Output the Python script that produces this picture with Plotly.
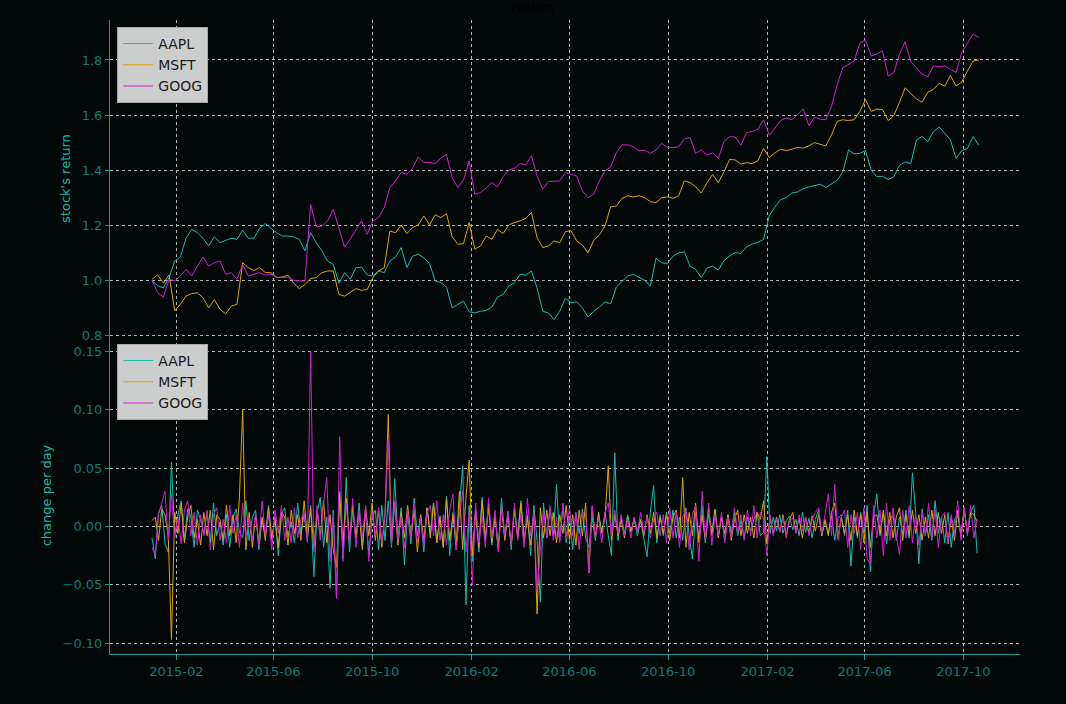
import numpy as np
import pandas as pd
import plotly.graph_objects as go
from plotly.subplots import make_subplots

# weekly samples of cumulative return
week_dates = pd.date_range("2015-01-02", periods=147, freq="7D")

aapl_ret = [1.000, 0.980, 0.973, 1.010, 1.070, 1.085, 1.153, 1.185, 1.173, 1.153,
            1.125, 1.158, 1.137, 1.145, 1.153, 1.149, 1.182, 1.153, 1.153, 1.189,
            1.206, 1.189, 1.173, 1.161, 1.161, 1.158, 1.149, 1.107, 1.173, 1.137,
            1.107, 1.070, 1.058, 0.990, 1.028, 1.004, 1.046, 1.048, 1.019, 1.016,
            1.034, 1.028, 1.070, 1.085, 1.119, 1.046, 1.088, 1.095, 1.082, 1.061,
            0.998, 0.992, 0.976, 0.900, 0.913, 0.925, 0.886, 0.882, 0.888, 0.891,
            0.903, 0.939, 0.949, 0.979, 0.992, 1.022, 1.019, 1.034, 0.973, 0.888,
            0.882, 0.858, 0.888, 0.935, 0.919, 0.922, 0.900, 0.867, 0.888, 0.903,
            0.922, 0.915, 0.976, 0.995, 1.016, 1.022, 1.012, 1.000, 0.979, 1.080,
            1.064, 1.061, 1.088, 1.100, 1.104, 1.052, 1.040, 1.010, 1.044, 1.052,
            1.037, 1.071, 1.089, 1.101, 1.098, 1.122, 1.132, 1.138, 1.149, 1.235,
            1.266, 1.293, 1.300, 1.317, 1.321, 1.333, 1.339, 1.345, 1.349, 1.337,
            1.349, 1.363, 1.394, 1.473, 1.459, 1.461, 1.471, 1.400, 1.376, 1.378,
            1.366, 1.376, 1.418, 1.430, 1.424, 1.510, 1.522, 1.504, 1.540, 1.556,
            1.534, 1.510, 1.443, 1.471, 1.479, 1.522, 1.491]

msft_ret = [1.004, 1.020, 0.990, 1.020, 0.890, 0.913, 0.943, 0.952, 0.955, 0.937,
            0.900, 0.930, 0.895, 0.879, 0.907, 0.913, 1.064, 1.046, 1.036, 1.046,
            1.028, 1.028, 1.010, 1.012, 1.019, 0.990, 0.970, 0.985, 1.007, 1.010,
            1.028, 1.034, 1.034, 0.949, 0.943, 0.955, 0.970, 0.964, 0.967, 1.010,
            1.034, 1.046, 1.179, 1.173, 1.201, 1.170, 1.192, 1.201, 1.234, 1.201,
            1.238, 1.228, 1.242, 1.158, 1.131, 1.133, 1.210, 1.113, 1.125, 1.161,
            1.149, 1.185, 1.170, 1.201, 1.210, 1.216, 1.225, 1.246, 1.155, 1.119,
            1.125, 1.143, 1.137, 1.177, 1.180, 1.143, 1.128, 1.100, 1.145, 1.165,
            1.198, 1.267, 1.270, 1.298, 1.307, 1.303, 1.307, 1.300, 1.286, 1.282,
            1.300, 1.303, 1.298, 1.307, 1.361, 1.355, 1.340, 1.317, 1.354, 1.385,
            1.354, 1.394, 1.439, 1.437, 1.422, 1.427, 1.424, 1.434, 1.479, 1.446,
            1.463, 1.476, 1.471, 1.476, 1.483, 1.480, 1.488, 1.500, 1.495, 1.488,
            1.528, 1.577, 1.583, 1.580, 1.583, 1.613, 1.656, 1.613, 1.622, 1.620,
            1.580, 1.598, 1.646, 1.699, 1.678, 1.659, 1.646, 1.683, 1.693, 1.715,
            1.705, 1.744, 1.705, 1.720, 1.760, 1.796, 1.800]

goog_ret = [1.000, 0.955, 0.940, 1.004, 0.998, 1.016, 1.040, 1.016, 1.052, 1.085,
            1.052, 1.064, 1.070, 1.022, 1.028, 1.004, 1.058, 1.016, 1.022, 1.028,
            1.019, 1.022, 1.012, 1.010, 1.012, 1.000, 0.998, 0.998, 1.276, 1.194,
            1.197, 1.216, 1.258, 1.190, 1.120, 1.150, 1.185, 1.216, 1.167, 1.216,
            1.228, 1.264, 1.337, 1.361, 1.392, 1.385, 1.407, 1.448, 1.428, 1.428,
            1.424, 1.444, 1.456, 1.373, 1.337, 1.364, 1.434, 1.313, 1.319, 1.335,
            1.355, 1.339, 1.376, 1.400, 1.407, 1.424, 1.419, 1.452, 1.379, 1.331,
            1.359, 1.359, 1.361, 1.391, 1.385, 1.379, 1.325, 1.300, 1.313, 1.361,
            1.398, 1.412, 1.464, 1.492, 1.492, 1.485, 1.470, 1.473, 1.461, 1.473,
            1.497, 1.482, 1.482, 1.485, 1.513, 1.519, 1.461, 1.473, 1.455, 1.463,
            1.443, 1.504, 1.522, 1.520, 1.491, 1.537, 1.540, 1.549, 1.583, 1.528,
            1.552, 1.580, 1.589, 1.583, 1.601, 1.622, 1.561, 1.593, 1.585, 1.583,
            1.632, 1.711, 1.772, 1.784, 1.796, 1.861, 1.873, 1.815, 1.821, 1.833,
            1.741, 1.754, 1.821, 1.866, 1.793, 1.772, 1.748, 1.739, 1.778, 1.776,
            1.778, 1.766, 1.754, 1.827, 1.863, 1.894, 1.882]

# change per day, sampled every 4 days, in thousandths
chg_dates = pd.date_range("2015-01-02", periods=256, freq="4D")

aapl_chg_pm = [-10, -28, 12, 18, -15, -22, 55, -8, 10, 22, -12, 15, 8, -18, 14, 6,
               -6, 12, -14, 20, -8, 4, -16, 10, -18, 7, 15, -5, -10, 22, -12, 8,
               14, -20, 6, -8, 18, -12, 9, -25, 11, 16, -9, 4, -14, 20, -6, 10,
               -12, 18, -43, 12, 25, -18, 8, -53, 14, -60, 30, -28, 42, -22, 15, -10,
               20, -16, 12, -24, 8, 14, -20, 18, -12, 22, -18, 41, -10, 16, -33, 12,
               -15, 24, -8, 10, -22, 16, -6, 20, -14, 9, -18, 26, -25, 12, -20, 15,
               52, -67, 18, -30, 14, -22, 25, -12, 20, -16, 10, -18, 24, -9, 13, -20,
               16, -8, 22, -14, 10, -25, 18, -12, -65, 20, -10, 15, -8, 36, -12, 18,
               -14, 9, -20, 12, -6, 15, -10, -18, 8, -12, 10, -5, 12, -8, -25, 63,
               -12, 8, -6, 10, -4, 6, -8, 5, -10, -26, 12, 35, -14, 10, -8, 12,
               -6, 14, -10, 8, -12, 16, -8, -28, 12, -10, 18, -14, 10, -6, 15, -9,
               8, -12, 10, -6, 12, -8, 5, -10, 8, -4, 6, 12, -8, -5, 60, -6,
               8, -4, 10, -6, 5, 9, -3, 6, -8, 12, -5, 7, -10, 6, 14, -8,
               5, -6, 9, -12, 7, 10, -8, 14, -34, 8, -10, 12, -6, 18, -39, 10,
               28, -8, 12, -15, 6, 10, -12, 8, -6, 14, -10, 46, 12, -32, 15, -8,
               10, -12, 22, -6, 8, -14, 12, -18, 6, 10, -8, 14, -6, 12, 18, -23]

msft_chg_pm = [5, 8, -12, 15, 10, -8, -97, 12, -6, 20, -14, 8, 18, -10, 6, -16,
               12, -8, 14, -20, 10, 6, -12, 18, -8, 10, -14, 25, 100, -20, 12, -18,
               10, -14, 8, -12, 16, -10, 6, -18, 12, 8, -16, 14, -6, 10, -12, 22,
               -10, 16, -18, 12, -8, 22, -14, 10, -20, -35, 28, -16, 24, -12, 18, -10,
               12, -20, 16, -8, 20, -12, 14, -18, 10, 96, -14, 20, -16, 12, -10, 18,
               -8, 14, -22, 10, -12, 16, -10, 20, -14, 8, -18, 24, -12, 10, -16, 30,
               -20, 24, 57, -25, 14, -18, 22, -10, 16, -14, 8, -20, 18, -12, 10, -16,
               14, -10, 20, -12, 8, -16, 12, -75, 16, -10, 14, -8, 12, -14, 10, -6,
               18, -12, 10, -16, 14, -8, 20, -40, 16, -10, 12, -6, 8, 52, -12, 10,
               -8, 6, -10, 8, -5, 7, -4, 6, -8, 10, -6, 12, -10, 8, -6, 10,
               -12, 8, 14, -10, 42, -18, 12, -8, 20, -14, 10, -12, 16, -8, 14, -10,
               8, -6, 10, -12, 6, 14, -8, 10, -6, 8, -10, 12, 6, 22, -15, 8,
               -6, 8, -4, 10, -8, 6, 12, -5, 7, -10, 8, -6, 9, -4, 10, -8,
               6, -8, 12, 20, -10, 8, -6, 10, -12, 14, -8, 10, -14, 12, -18, 8,
               10, -6, 14, -8, 12, -10, 8, 16, -12, 10, -8, 14, -6, 10, -12, 8,
               -10, 14, -8, 12, -6, 10, -15, 8, -12, 14, -8, 16, -6, 12, 10, 4]

goog_chg_pm = [-18, -25, 10, 20, 30, -12, 28, -10, 8, -15, 14, 22, -8, 12, -16, 10,
               -8, 14, -20, 10, 16, -12, 6, -14, 18, -6, 10, -18, 20, -10, 8, -12,
               12, -16, 22, -8, 10, -20, 14, -6, 18, -12, 8, -14, 16, -10, 6, 12,
               -14, 150, -22, 18, -12, 20, 42, -30, 10, -62, 77, -30, 20, -15, 24, -18,
               14, -10, 18, -30, 12, -8, 16, -14, 10, 75, -16, 22, -12, 8, -18, 14,
               -10, 20, -14, 8, -16, 12, 18, -8, 22, -12, 10, -16, 14, 28, -20, 10,
               30, -22, 12, -50, 20, -14, 10, -18, 24, -10, 14, -22, 18, -8, 12, -16,
               20, -12, 10, -18, 24, -8, 12, -55, -20, 14, -10, 18, -12, 8, -14, 20,
               -10, 16, -8, 12, -20, 10, 14, -40, 18, -10, 8, -14, 12, 20, -8, 14,
               -6, 10, -8, 6, -10, 8, -5, 12, -6, 8, -10, 6, 12, -8, 10, -14,
               16, -10, 12, -18, 8, 14, -20, 10, 18, -30, 30, -12, 20, -16, 10, -8,
               12, -14, 8, -10, 16, -6, 10, -12, 14, -8, 18, -10, 12, 6, -25, 10,
               -8, 6, -5, 8, -10, 5, 7, -6, 10, -4, 8, -8, 6, 12, 16, -6,
               10, 28, -8, 36, -12, 8, 14, -18, 10, -6, 12, -20, 16, -28, -32, 18,
               -10, 14, -25, 20, -12, 16, -8, -24, 14, -10, 18, -14, 10, -16, 12, -8,
               20, -10, 14, -18, 8, 12, -14, 10, -6, 22, -12, 16, -8, 18, -10, 6]

names = ["AAPL", "MSFT", "GOOG"]
colors = ["#14bdb4", "#e0a30a", "#d21ed2"]

x_ticks = ["2015-02-01", "2015-06-01", "2015-10-01", "2016-02-01", "2016-06-01",
           "2016-10-01", "2017-02-01", "2017-06-01", "2017-10-01"]
x_labels = ["2015-02", "2015-06", "2015-10", "2016-02", "2016-06",
            "2016-10", "2017-02", "2017-06", "2017-10"]
top_ticks = [0.8, 1.0, 1.2, 1.4, 1.6, 1.8]
bottom_ticks = [-0.10, -0.05, 0.0, 0.05, 0.10, 0.15]

BG = "#020708"
TEAL = "#119a96"
LABEL = "#0e7c7a"
GRID = "#b4b4b4"
FONT = "DejaVu Sans"

fig = make_subplots(rows=2, cols=1, shared_xaxes=True, vertical_spacing=0)

rets = [aapl_ret, msft_ret, goog_ret]
chgs = [aapl_chg_pm, msft_chg_pm, goog_chg_pm]
for name, col, r in zip(names, colors, rets):
    fig.add_trace(go.Scatter(x=week_dates, y=r, mode="lines", name=name,
                             line=dict(color=col, width=1), legend="legend"),
                  row=1, col=1)
for name, col, c in zip(names, colors, chgs):
    fig.add_trace(go.Scatter(x=chg_dates, y=np.array(c) / 1000.0, mode="lines", name=name,
                             line=dict(color=col, width=1), legend="legend2"),
                  row=2, col=1)

legend_style = dict(bgcolor="#cccecd", bordercolor="#a8a8a8", borderwidth=1,
                    font=dict(family=FONT, size=14, color="#1a1a1a"),
                    xanchor="left", yanchor="top", x=0.008, tracegroupgap=0)

fig.update_layout(
    width=1066, height=704,
    margin=dict(l=110, r=46, t=20, b=50),
    paper_bgcolor=BG, plot_bgcolor=BG,
    font=dict(family=FONT, size=13, color=LABEL),
    title=dict(text="return", x=0.5, xanchor="center", y=0.99, yanchor="middle",
               font=dict(family=FONT, size=14, color="#000000")),
    legend=dict(y=0.989, **legend_style),
    legend2=dict(y=0.489, **legend_style),
    showlegend=True,
)

xrange = ["2014-11-11", "2017-12-10"]
fig.update_xaxes(range=xrange, showgrid=True, gridcolor=GRID, griddash="dot", gridwidth=1,
                 zeroline=False, tickvals=x_ticks, ticktext=x_labels)
fig.update_xaxes(showticklabels=False, ticks="", showline=False, row=1, col=1)
fig.update_xaxes(ticks="outside", ticklen=5, tickcolor=TEAL, showline=True, linecolor=TEAL,
                 linewidth=1, tickfont=dict(color=LABEL, size=13), row=2, col=1)

fig.update_yaxes(showgrid=True, gridcolor=GRID, griddash="dot", gridwidth=1, zeroline=False,
                 ticks="outside", ticklen=4, tickcolor=TEAL, showline=True, linecolor=TEAL,
                 linewidth=1, tickfont=dict(color=LABEL, size=13))
fig.update_yaxes(domain=[0.5, 1.0], range=[0.7945, 1.945], tickvals=top_ticks, tickformat=".1f",
                 title=dict(text="stock's return", font=dict(color="#18b8b0", size=13), standoff=8),
                 row=1, col=1)
fig.update_yaxes(domain=[0.0, 0.5], range=[-0.1094, 0.1624], tickvals=bottom_ticks, tickformat=".2f",
                 title=dict(text="change per day", font=dict(color="#18b8b0", size=13), standoff=8),
                 row=2, col=1)

# drop the page margin so the figure fills the window
fig.write_html("out.html", config={"displayModeBar": False},
               post_script="document.body.style.margin='0';")
